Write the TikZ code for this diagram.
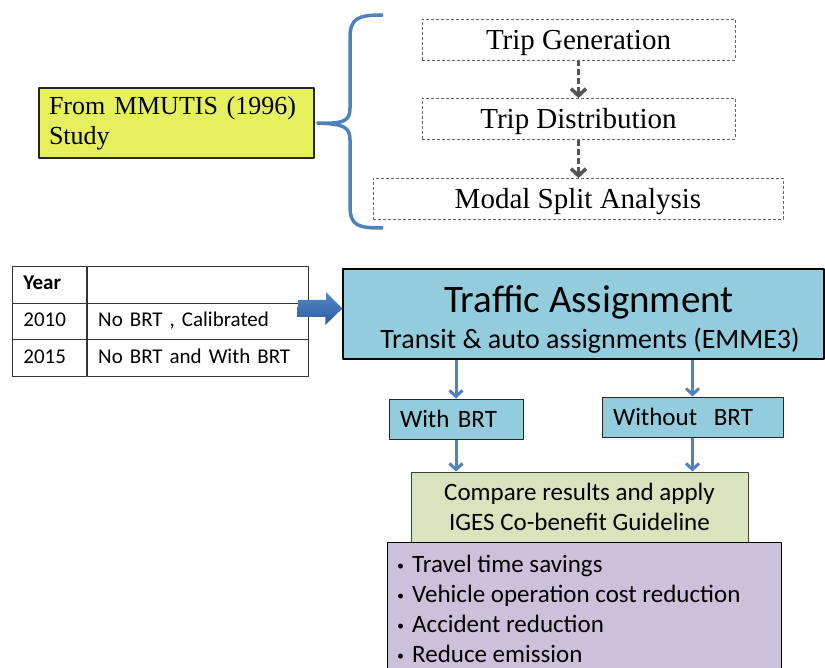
\documentclass[tikz,border=0pt]{standalone}
\usepackage{fontspec}
\setmainfont{Carlito}
\newfontfamily\bookface{Liberation Serif}
\usetikzlibrary{arrows.meta}
\definecolor{lemon}{RGB}{230,240,92}
\definecolor{skyfill}{RGB}{147,205,221}
\definecolor{sagefill}{RGB}{215,228,189}
\definecolor{lilac}{RGB}{204,193,218}
\definecolor{bracecol}{RGB}{79,129,189}
\definecolor{pushtop}{RGB}{84,136,200}
\definecolor{pushbot}{RGB}{44,92,160}
\definecolor{dashgray}{RGB}{85,85,85}
\begin{document}
\begin{tikzpicture}[x=1pt,y=-1pt,line join=round,
  dashbox/.style={draw=gray!80!black, dash pattern=on 3pt off 2pt, line width=0.8pt,
    minimum height=41pt, text height=20pt, text depth=0pt, font=\bookface\fontsize{29}{32}\selectfont},
  dashflow/.style={draw=dashgray, line width=3.5pt, dash pattern=on 6pt off 3pt,
    -{Straight Barb[length=7pt,width=15pt]}},
  cell/.style={draw=black!80, line width=0.8pt, minimum height=36.67pt, inner xsep=11pt,
    text height=14pt, text depth=4pt, align=left, anchor=north west, font=\fontsize{21}{24}\selectfont},
  bluebox/.style={draw=black!85, line width=1pt, fill=skyfill, minimum height=40pt,
    inner xsep=11pt, align=left, font=\fontsize{25}{28}\selectfont},
  flow/.style={draw=bracecol, line width=3pt, -{Straight Barb[length=6pt,width=13pt]}}]
\clip (0,0) rectangle (825,668);

% study source and the three model steps
\node[draw=black!85, line width=1.3pt, fill=lemon, minimum width=275pt, minimum height=70pt,
  text width=255pt, align=left, font=\bookface\fontsize{26}{30}\selectfont]
  (mmutis) at (176.5,123) {From MMUTIS (1996)\\Study};
\node[dashbox, minimum width=313pt] (gen) at (578.5,39.5) {Trip Generation};
\node[dashbox, minimum width=313pt] (dist) at (578.5,119) {Trip Distribution};
\node[dashbox, minimum width=410pt] (modal) at (578,199) {Modal Split Analysis};
\draw[dashflow] (gen) -- (dist);
\draw[dashflow] (dist.south) -- (dist.south |- modal.north);
\draw[bracecol, line width=3.5pt] (383,15) .. controls (358,15) and (350,18) .. (350,38)
  -- (350,108) .. controls (350,121) and (344,124) .. ([xshift=3pt]mmutis.east)
  .. controls (344,124) and (350,127) .. (350,140) -- (350,206)
  .. controls (350,226) and (358,228) .. (383,228);

% scenario table
\foreach \yr/\what [count=\i] in {{\textbf{Year}}/{}, 2010/{No BRT , Calibrated}, 2015/{No BRT and With BRT}}
{
  \node[cell, text width=52pt] (yr\i) at (12,{266+36.67*(\i-1)}) {\yr};
  \node[cell, text width=199pt] (what\i) at (yr\i.north east) {\what};
}

% assignment
\node[draw=black, line width=1.3pt, fill=skyfill, minimum width=481pt, minimum height=90pt] (ta) at (583.5,314) {};
\node[anchor=base, font=\fontsize{39}{40}\selectfont] (tahead) at (589,313) {Traffic Assignment};
\node[anchor=base, font=\fontsize{28}{30}\selectfont] (tasub) at (590,349) {Transit \& auto assignments (EMME3)};
\coordinate (pushtail) at (298,308.5);
\shade[top color=pushtop, bottom color=pushbot] (pushtail) ++(0,-8.5) -- ++(28,0) -- ++(0,-8)
  -- (pushtail -| ta.west) -- ++(-17,16.5) -- ++(0,-8) -- ++(-28,0) -- cycle;

\node[bluebox, text width=112pt] (wbrt) at (456,419) {With BRT};
\node[bluebox, text width=159pt] (wobrt) at (692.5,417) {Without\ \ BRT};
\draw[flow] (wbrt.north |- ta.south) -- (wbrt.north);
\draw[flow] (wobrt.north |- ta.south) -- (wobrt.north);

\node[draw=black!75, line width=1pt, fill=sagefill, minimum width=337pt, minimum height=70pt,
  align=center, font=\fontsize{25}{30}\selectfont] (cmp) at (579.5,507)
  {Compare results and apply\\IGES Co-benefit Guideline};
\draw[flow] (wbrt.south) -- (wbrt.south |- cmp.north);
\draw[flow] (wobrt.south) -- (wobrt.south |- cmp.north);

% co-benefits
\node[draw=black, line width=1.3pt, fill=lilac, minimum width=394pt, minimum height=150pt, anchor=north west] (bens) at (387,542) {};
\foreach \ben [count=\i] in {Travel time savings, Vehicle operation cost reduction, Accident reduction, Reduce emission}
  \node[anchor=base west, inner sep=0pt, font=\fontsize{25}{30}\selectfont] (ben\i) at (397,{572+30*(\i-1)})
    {\makebox[15pt][l]{\raisebox{2pt}{\fontsize{14}{14}\selectfont\textbullet}}\ben};
\end{tikzpicture}
\end{document}
